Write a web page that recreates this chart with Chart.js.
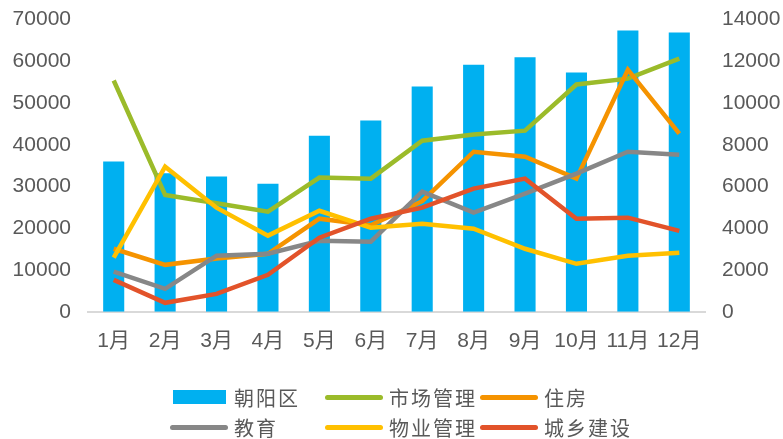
<!DOCTYPE html>
<html>
<head>
<meta charset="utf-8">
<script src="https://cdn.jsdelivr.net/npm/chart.js@4"></script>
<style>
  body { margin: 0; background: #fff; }
  #wrap { position: relative; width: 783px; height: 439px; overflow: hidden; }
  #chartBox { position: absolute; left: 0; top: -10px; width: 783px; height: 391px; }
  #legend { position: absolute; left: 0; top: 0; width: 783px; height: 439px; pointer-events: none;
    font-family: "Noto Sans CJK SC", sans-serif; font-size: 20px; color: #595959; }
  .item { position: absolute; display: flex; align-items: center; height: 24px; }
  .mark { width: 58px; margin-right: 6px; }
</style>
</head>
<body>
<div id="wrap">
  <div id="chartBox"><canvas id="chart"></canvas></div>
  <div id="legend"></div>
</div>
<script>
const months = ["1月", "2月", "3月", "4月", "5月", "6月", "7月", "8月", "9月", "10月", "11月", "12月"];

// 左轴 (柱)
const chaoyang = [36000, 33200, 32400, 30700, 42200, 45800, 54000, 59200, 61000, 57300, 67400, 66900];

// 右轴 (线)
const shichang = [11080, 5600, 5200, 4800, 6430, 6380, 8200, 8500, 8680, 10890, 11170, 12130];
const zhufang = [3020, 2250, 2550, 2780, 4460, 4150, 5300, 7670, 7430, 6380, 11600, 8540];
const jiaoyu = [1920, 1100, 2690, 2780, 3400, 3360, 5760, 4750, 5660, 6620, 7670, 7530];
const wuye = [2600, 6950, 4990, 3650, 4840, 4030, 4220, 3980, 3020, 2300, 2690, 2830];
const chengxiang = [1530, 430, 860, 1770, 3550, 4460, 4990, 5900, 6380, 4460, 4510, 3880];

const textColor = "#595959";
const tickFont = { family: "'Liberation Sans', 'Noto Sans CJK SC', sans-serif", size: 21 };

const lineDs = (label, data, color, order) => ({
  type: "line",
  label,
  data,
  yAxisID: "y1",
  borderColor: color,
  backgroundColor: color,
  borderWidth: 4.5,
  pointRadius: 0,
  tension: 0,
  fill: false,
  order,
});

const datasets = [
  {
    type: "bar",
    label: "朝阳区",
    data: chaoyang,
    yAxisID: "y",
    backgroundColor: "#00B0F0",
    barPercentage: 0.41,
    categoryPercentage: 1,
    order: 10,
  },
  lineDs("市场管理", shichang, "#9BBB2A", 5),
  lineDs("住房", zhufang, "#F59300", 4),
  lineDs("教育", jiaoyu, "#878787", 3),
  lineDs("物业管理", wuye, "#FFC000", 2),
  lineDs("城乡建设", chengxiang, "#E2532A", 1),
];

const plain = (v) => String(v);

new Chart(document.getElementById("chart"), {
  data: { labels: months, datasets },
  options: {
    responsive: true,
    maintainAspectRatio: false,
    animation: false,
    layout: { padding: { left: 8, right: 2, top: 8, bottom: 10 } },
    plugins: { legend: { display: false }, tooltip: { enabled: false } },
    scales: {
      x: {
        grid: { display: false, drawTicks: false },
        border: { color: "#D9D9D9", width: 2 },
        ticks: { color: textColor, font: tickFont, padding: 17, maxRotation: 0 },
      },
      y: {
        position: "left",
        min: 0,
        max: 70000,
        grid: { display: false, drawTicks: false },
        border: { display: false },
        ticks: { stepSize: 10000, color: textColor, font: tickFont, padding: 17, callback: plain },
        afterFit: (s) => { s.width = 80; },
      },
      y1: {
        position: "right",
        min: 0,
        max: 14000,
        grid: { display: false, drawTicks: false },
        border: { display: false },
        ticks: { stepSize: 2000, color: textColor, font: tickFont, padding: 17, callback: plain },
        afterFit: (s) => { s.width = 76; },
      },
    },
  },
});

// legend (two rows, three columns like the original)
const legend = document.getElementById("legend");
const slots = [
  [170, 385], [325, 385], [480, 385],
  [170, 415], [325, 415], [480, 415],
];
datasets.forEach((ds, i) => {
  const item = document.createElement("div");
  item.className = "item";
  item.style.left = slots[i][0] + "px";
  item.style.top = slots[i][1] + "px";
  const mark = document.createElement("span");
  mark.className = "mark";
  if (ds.type === "bar") {
    mark.style.height = "14px";
    mark.style.background = ds.backgroundColor;
    mark.style.marginLeft = "3px";
    mark.style.width = "53px";
    mark.style.marginRight = "8px";
  } else {
    mark.style.height = "5px";
    mark.style.borderRadius = "3px";
    mark.style.background = ds.borderColor;
  }
  const txt = document.createElement("span");
  txt.textContent = ds.label;
  txt.style.letterSpacing = "2px";
  item.appendChild(mark);
  item.appendChild(txt);
  legend.appendChild(item);
});
</script>
</body>
</html>
